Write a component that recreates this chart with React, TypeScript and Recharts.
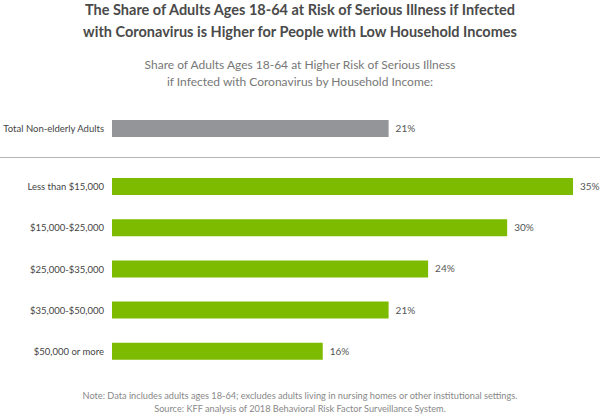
import React from 'react';
import { BarChart, Bar, XAxis, YAxis, LabelList } from 'recharts';

const totalLabels = ['Total Non-elderly Adults'];
const totalValues = [21];

const incomeLabels = [
  'Less than $15,000',
  '$15,000-$25,000',
  '$25,000-$35,000',
  '$35,000-$50,000',
  '$50,000 or more',
];
const incomeValues = [35, 30, 24, 21, 16];

const FONT = 'Lato, "Open Sans", sans-serif';
const GREEN = '#7dbb00';
const GREY = '#949598';

const totalData = totalLabels.map((name, i) => ({ name, value: totalValues[i] }));
const incomeData = incomeLabels.map((name, i) => ({ name, value: incomeValues[i] }));

const pct = (v: any) => `${v}%`;

// single-line category label, right aligned against the bars
const CategoryTick = ({ x, y, payload }: any) => (
  <text x={x} y={y} dy={3.5} textAnchor="end" fill="#444" fontSize={9.5} fontFamily={FONT}>
    {payload.value}
  </text>
);

const RowChart = ({ data, color, height }: { data: { name: string; value: number }[]; color: string; height: number }) => (
  <BarChart
    width={600}
    height={height}
    data={data}
    layout="vertical"
    margin={{ top: 0, right: 27, bottom: 0, left: 0 }}
  >
    <XAxis type="number" domain={[0, 35]} hide />
    <YAxis
      type="category"
      dataKey="name"
      width={112}
      axisLine={false}
      tickLine={false}
      tickSize={0}
      tickMargin={8}
      tick={<CategoryTick />}
    />
    <Bar dataKey="value" fill={color} barSize={17} isAnimationActive={false}>
      <LabelList
        dataKey="value"
        position="right"
        offset={7}
        formatter={pct}
        style={{ fill: '#555', fontSize: 10, fontFamily: FONT }}
      />
    </Bar>
  </BarChart>
);

export default function App() {
  return (
    <div
      style={{
        position: 'absolute',
        left: 0,
        top: 0,
        width: 600,
        height: 417,
        background: '#fff',
        fontFamily: FONT,
        overflow: 'hidden',
      }}
    >
      {/* heading */}
      <div
        style={{
          position: 'absolute',
          top: -1,
          left: 0,
          width: 600,
          textAlign: 'center',
          fontSize: 14.5,
          lineHeight: '22px',
          fontWeight: 700,
          color: '#4a4a4a',
        }}
      >
        The Share of Adults Ages 18-64 at Risk of Serious Illness if Infected
        <br />
        with Coronavirus is Higher for People with Low Household Incomes
      </div>

      {/* chart subtitle */}
      <div
        style={{
          position: 'absolute',
          top: 56,
          left: 0,
          width: 600,
          textAlign: 'center',
          fontSize: 12,
          lineHeight: '17px',
          fontWeight: 400,
          color: '#777',
        }}
      >
        Share of Adults Ages 18-64 at Higher Risk of Serious Illness
        <br />
        if Infected with Coronavirus by Household Income:
      </div>

      <div style={{ position: 'absolute', top: 107, left: 0 }}>
        <RowChart data={totalData} color={GREY} height={42} />
      </div>

      {/* divider between total and income groups */}
      <div style={{ position: 'absolute', top: 157, left: 0, width: 600, height: 1, background: '#b5b5b5' }} />

      <div style={{ position: 'absolute', top: 166, left: 0 }}>
        <RowChart data={incomeData} color={GREEN} height={206} />
      </div>

      {/* footnotes */}
      <div
        style={{
          position: 'absolute',
          top: 389,
          left: 0,
          width: 600,
          textAlign: 'center',
          fontSize: 9.2,
          lineHeight: '13px',
          fontWeight: 400,
          color: '#888',
        }}
      >
        Note: Data includes adults ages 18-64; excludes adults living in nursing homes or other institutional settings.
        <br />
        Source: KFF analysis of 2018 Behavioral Risk Factor Surveillance System.
      </div>
    </div>
  );
}
